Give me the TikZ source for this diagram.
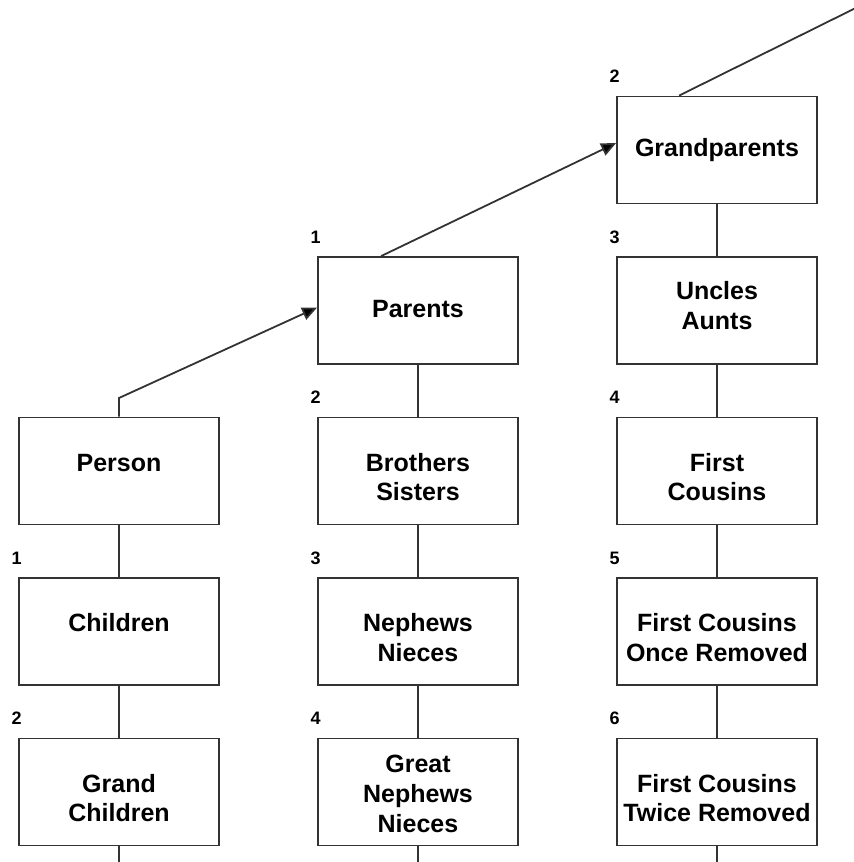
\documentclass[tikz,border=0pt]{standalone}
\usepackage{fontspec}
\setmainfont{Liberation Sans}
\usetikzlibrary{arrows.meta,positioning}

\begin{document}
\begin{tikzpicture}[
x=0.5pt,y=-0.5pt,
kin/.style={draw=black!80,line width=0.9pt,fill=white,
  minimum width=100pt,minimum height=53.5pt,inner sep=0pt,align=center,
  font=\bfseries\fontsize{12.5}{14.9}\selectfont,
  text height=26.75pt,text depth=26.75pt},
twoline/.style={text height=41.65pt,text depth=11.85pt},
gen/.style={font=\bfseries\fontsize{9}{10}\selectfont,inner sep=0pt,
  text height=,text depth=,anchor=base west,xshift=-3.5pt,yshift=6.5pt},
link/.style={draw=black!80,line width=0.9pt},
up/.style={link,-{Triangle[length=7.5pt,width=6.5pt,fill=black]}},
]
\useasboundingbox (0,0) rectangle (853,862);
% the person and his descendants
\node[kin] (person) at (119,471) {Person};
\node[kin,label={[gen]north west:1}] (children) at (119,631.5) {Children};
\node[kin,twoline,label={[gen]north west:2}] (grandchildren) at (119,792) {Grand\\Children};
% parents line
\node[kin,label={[gen]north west:1},text height=30pt,text depth=23.5pt] (parents) at (418,310.5) {Parents};
\node[kin,twoline,label={[gen]north west:2}] (siblings) at (418,471) {Brothers\\Sisters};
\node[kin,twoline,label={[gen]north west:3}] (nephews) at (418,631.5) {Nephews\\Nieces};
\node[kin,label={[gen]north west:4},text height=46.8pt,text depth=6.7pt] (greatnephews) at (418,792) {Great\\Nephews\\Nieces};
% grandparents line
\node[kin,label={[gen]north west:2},text height=30pt,text depth=23.5pt] (grandparents) at (717,150) {Grandparents};
\node[kin,label={[gen]north west:3},text height=36.1pt,text depth=17.4pt] (uncles) at (717,310.5) {Uncles\\Aunts};
\node[kin,twoline,label={[gen]north west:4}] (cousins) at (717,471) {First\\Cousins};
\node[kin,twoline,label={[gen]north west:5}] (cousinsonce) at (717,631.5) {First Cousins\\Once Removed};
\node[kin,twoline,label={[gen]north west:6}] (cousinstwice) at (717,792) {First Cousins\\Twice Removed};

\coordinate (kink) at (119,398);
\coordinate (beyond) at (900,-14);
\coordinate (endone) at (119,870);
\coordinate (endtwo) at (418,870);
\coordinate (endthree) at (717,870);

\draw[up] (person.north) -- (kink) -- ([yshift=1.5pt]parents.west);
\draw[up] ([xshift=32pt]parents.north west) -- ([yshift=3.5pt]grandparents.west);
\draw[link] ([xshift=31.5pt]grandparents.north west) -- (beyond);

\draw[link] (person) -- (children) -- (grandchildren) -- (endone);
\draw[link] (parents) -- (siblings) -- (nephews) -- (greatnephews) -- (endtwo);
\draw[link] (grandparents) -- (uncles) -- (cousins) -- (cousinsonce) -- (cousinstwice) -- (endthree);
\end{tikzpicture}
\end{document}
